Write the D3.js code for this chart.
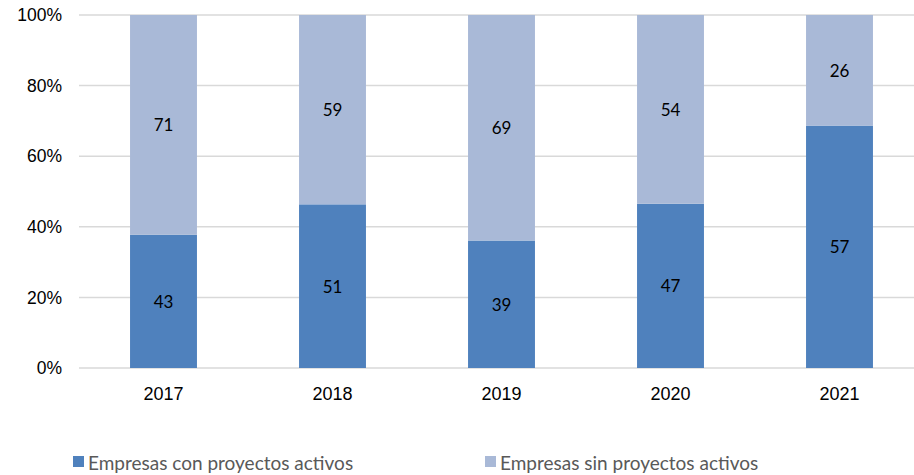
<!DOCTYPE html>
<html>
<head>
<meta charset="utf-8">
<script src="https://cdn.jsdelivr.net/npm/d3@7"></script>
<style>
  body { margin: 0; background: #fff; }
  svg { display: block; font-family: Lato, "Open Sans", sans-serif; }
  .axis path, .axis line { display: none; }
  .axis text { fill: #000; }
  .axis--y text { font-size: 17.5px; }
  .axis--x text { font-size: 18px; }
  .grid line { stroke: #d9d9d9; stroke-width: 1.5px; }
  .lbl { font-size: 17px; fill: #000; }
  .legend text { font-size: 19px; fill: #595959; }
</style>
</head>
<body>
<svg id="chart" width="914" height="475"></svg>
<script>
// data
var years = ["2017", "2018", "2019", "2020", "2021"];
var conProyectos = [43, 51, 39, 47, 57];
var sinProyectos = [71, 59, 69, 54, 26];
var seriesNames = ["Empresas con proyectos activos", "Empresas sin proyectos activos"];
var yTicks = [0, 0.2, 0.4, 0.6, 0.8, 1];

var colors = ["#4f81bd", "#a9b9d7"];

var svg = d3.select("#chart");
var margin = {top: 15, left: 79, bottom: 107};
var width = 845,
    height = +svg.attr("height") - margin.top - margin.bottom;

var g = svg.append("g")
  .attr("transform", "translate(" + margin.left + "," + margin.top + ")");

// scales
var x = d3.scaleBand().domain(years).range([0, width]).paddingInner(0.604).paddingOuter(0.302);
var y = d3.scaleLinear().domain([0, 1]).range([height, 0]);

// gridlines
g.append("g")
  .attr("class", "grid")
  .selectAll("line")
  .data(yTicks)
  .enter().append("line")
  .attr("x1", 0)
  .attr("x2", width)
  .attr("y1", function(d) { return y(d); })
  .attr("y2", function(d) { return y(d); });

// stacked (100%) data
var table = years.map(function(yr, i) {
  var total = conProyectos[i] + sinProyectos[i];
  return {year: yr, con: conProyectos[i], sin: sinProyectos[i], total: total};
});
var stack = d3.stack()
  .keys(["con", "sin"])
  .value(function(d, k) { return d[k] / d.total; });
var layers = stack(table);

var layer = g.selectAll("g.layer")
  .data(layers)
  .enter().append("g")
  .attr("class", "layer")
  .attr("fill", function(d, i) { return colors[i]; });

layer.selectAll("rect")
  .data(function(d) { return d; })
  .enter().append("rect")
  .attr("x", function(d) { return x(d.data.year); })
  .attr("width", x.bandwidth())
  .attr("y", function(d) { return y(d[1]); })
  .attr("height", function(d) { return y(d[0]) - y(d[1]); });

// value labels
layers.forEach(function(l) {
  g.selectAll(null)
    .data(l)
    .enter().append("text")
    .attr("class", "lbl")
    .attr("text-anchor", "middle")
    .attr("dominant-baseline", "central")
    .attr("x", function(d) { return x(d.data.year) + x.bandwidth() / 2; })
    .attr("y", function(d) { return (y(d[0]) + y(d[1])) / 2; })
    .text(function(d) { return d.data[l.key]; });
});

// axes
g.append("g")
  .attr("class", "axis axis--y")
  .call(d3.axisLeft(y).tickValues(yTicks).tickFormat(d3.format(".0%")).tickSize(0).tickPadding(17));

g.append("g")
  .attr("class", "axis axis--x")
  .attr("transform", "translate(0," + height + ")")
  .call(d3.axisBottom(x).tickSize(0).tickPadding(19));

// legend
var legendX = [73, 485];
var legend = svg.append("g").attr("class", "legend")
  .selectAll("g")
  .data(seriesNames)
  .enter().append("g")
  .attr("transform", function(d, i) { return "translate(" + legendX[i] + ",456)"; });

legend.append("rect")
  .attr("width", 11)
  .attr("height", 11)
  .attr("fill", function(d, i) { return colors[i]; });

legend.append("text")
  .attr("x", 15)
  .attr("y", 6)
  .attr("dominant-baseline", "central")
  .text(function(d) { return d; });
</script>
</body>
</html>
